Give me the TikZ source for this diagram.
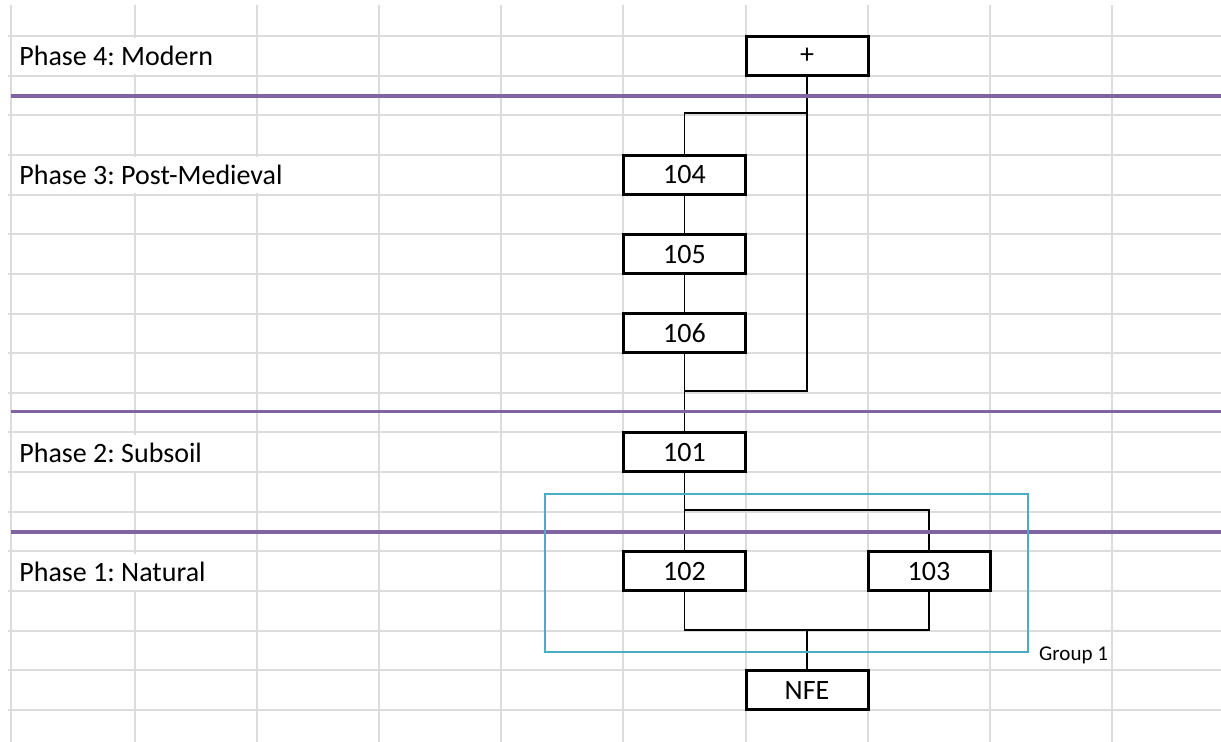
\documentclass[tikz,border=0pt]{standalone}
\usepackage{fontspec}
\setmainfont{Carlito}
\usepackage{xcolor}
\usepackage{tikz}
\usetikzlibrary{positioning}
\definecolor{gridgray}{RGB}{218,220,222}
\definecolor{phasepurple}{RGB}{128,100,162}
\definecolor{groupblue}{RGB}{75,172,198}
\frenchspacing

\begin{document}
\begin{tikzpicture}[
    x=0.5pt, y=-0.5pt,
    cell/.style={rectangle, draw, fill=white, line width=1.5pt, minimum width=61pt, minimum height=19.5pt, inner sep=0pt, font=\fontsize{14}{17}\selectfont},
    link/.style={line width=0.8pt},
    gridline/.style={draw=gridgray, line width=1pt},
    divider/.style={draw=phasepurple, line width=1.6pt},
    phase/.style={anchor=base west, fill=white, inner xsep=1pt, inner ysep=0pt, minimum height=18pt, font=\fontsize{14}{17}\selectfont},
    group/.style={rectangle, draw=groupblue, line width=0.8pt, minimum width=241.5pt, minimum height=79pt, inner sep=0pt}
]
    \useasboundingbox (0,0) rectangle (1221,742);
    \foreach \gx in {11,135,257,379,501,623,746,868,990,1112}
        \draw[gridline] (\gx,5) -- (\gx,742);
    \foreach \k in {0,...,17}
        \draw[gridline] (8,{36+39.65*\k}) -- (1221,{36+39.65*\k});

    \node[cell] (modern) at (807,55.8) {+};
    \node[cell] (c104) at (684.5,174.8) {104};
    \node[cell] (c105) at (684.5,254.1) {105};
    \node[cell] (c106) at (684.5,333.4) {106};
    \node[cell] (c101) at (684.5,452.4) {101};
    \node[cell] (c102) at (684.5,571.3) {102};
    \node[cell] (c103) at (929,571.3) {103};
    \node[cell] (nfe) at (807,690.2) {NFE};

    \coordinate (j1) at (807,113);
    \coordinate (j2) at (684.5,391);
    \coordinate (j3) at (684.5,510);
    \coordinate (j4) at (807,630);

    \draw[link] (modern.south) |- (j2);
    \draw[link] (j1) -| (c104.north);
    \draw[link] (c104.south) -- (c105.north);
    \draw[link] (c105.south) -- (c106.north);
    \draw[link] (c106.south) -- (c101.north);
    \draw[link] (c101.south) -- (c102.north);
    \draw[link] (j3) -| (c103.north);
    \draw[link] (c102.south) |- (j4) -| (c103.south);
    \draw[link] (j4) -- (nfe.north);

    \foreach \dy in {96,411.5,532}
        \draw[divider] (11,\dy) -- (1221,\dy);

    \node[phase] (p4) at (17,66) {Phase 4: Modern};
    \node[phase] (p3) at (17,185) {Phase 3: Post-Medieval};
    \node[phase] (p2) at (17,463) {Phase 2: Subsoil};
    \node[phase] (p1) at (17,582) {Phase 1: Natural};

    \node[group] (grp) at (786.5,573) {};
    \node[anchor=west, inner sep=5pt, yshift=-1.5pt, font=\fontsize{10.5}{12}\selectfont] (grplabel) at (grp.south east) {Group 1};
\end{tikzpicture}
\end{document}
